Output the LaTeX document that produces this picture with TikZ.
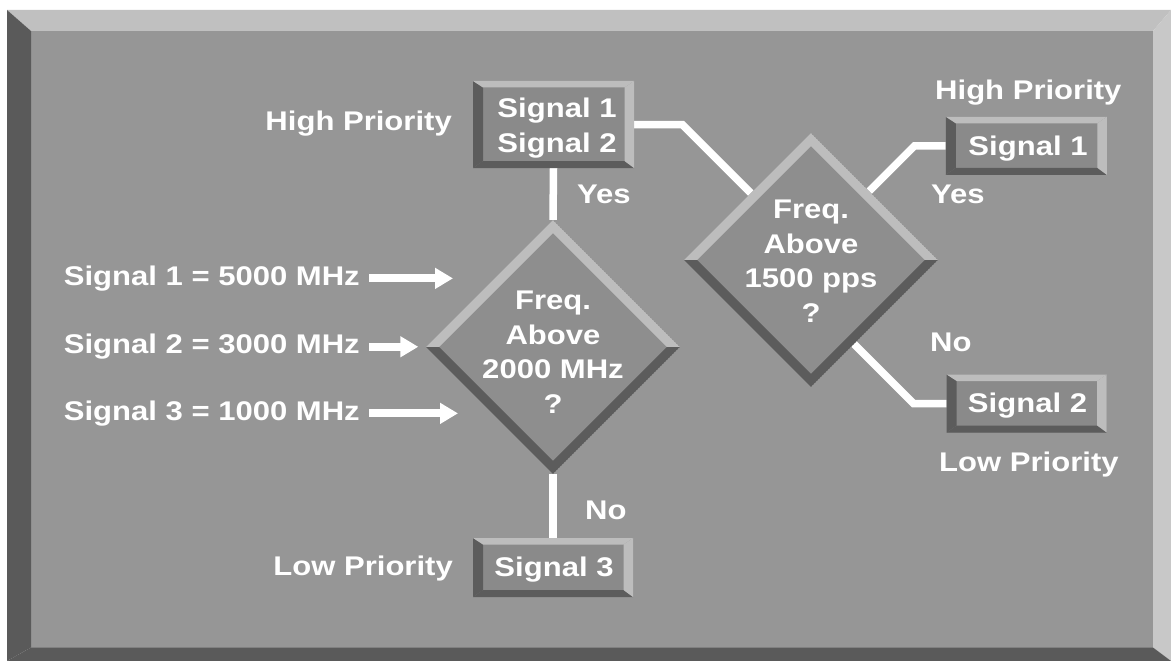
\documentclass[tikz,border=0pt]{standalone}
\usepackage{fontspec}
\newfontfamily\lbl{Liberation Sans}[FakeStretch=1.15]
\usetikzlibrary{arrows.meta,calc,shapes.geometric,backgrounds}
\definecolor{bg}{HTML}{969696}
\definecolor{bvl}{HTML}{BDBDBD}
\definecolor{bvd}{HTML}{5C5C5C}
\definecolor{frl}{HTML}{C0C0C0}
\definecolor{frr}{HTML}{C8C8C8}
\definecolor{frd}{HTML}{5A5A5A}
\definecolor{boxface}{HTML}{8A8A8A}
\definecolor{dface}{HTML}{8E8E8E}
\tikzset{
  txt/.style={text=white, inner sep=0pt, font=\lbl\bfseries\fontsize{27pt}{34.5pt}\selectfont},
  bevelbox/.style={fill=boxface, inner sep=0pt,
    path picture={
      \fill[bvd] (path picture bounding box.north west)
        -- ([shift={(10pt,-6.5pt)}]path picture bounding box.north west)
        -- ([shift={(10pt,7pt)}]path picture bounding box.south west)
        -- (path picture bounding box.south west) -- cycle;
      \fill[bvd] (path picture bounding box.south west)
        -- ([shift={(10pt,7pt)}]path picture bounding box.south west)
        -- ([shift={(-9.5pt,7pt)}]path picture bounding box.south east)
        -- (path picture bounding box.south east) -- cycle;
      \fill[bvl] (path picture bounding box.north west)
        -- (path picture bounding box.north east)
        -- ([shift={(-9.5pt,-6.5pt)}]path picture bounding box.north east)
        -- ([shift={(10pt,-6.5pt)}]path picture bounding box.north west) -- cycle;
      \fill[bvl] (path picture bounding box.north east)
        -- (path picture bounding box.south east)
        -- ([shift={(-9.5pt,7pt)}]path picture bounding box.south east)
        -- ([shift={(-9.5pt,-6.5pt)}]path picture bounding box.north east) -- cycle;
    }},
  dia/.style={diamond, minimum width=254pt, minimum height=254pt, inner sep=0pt, fill=dface,
    path picture={
      \fill[bvl] (path picture bounding box.west) -- (path picture bounding box.north)
        -- (path picture bounding box.east) -- ([xshift=-13pt]path picture bounding box.east)
        -- ([yshift=-13pt]path picture bounding box.north) -- ([xshift=13pt]path picture bounding box.west) -- cycle;
      \fill[bvd] (path picture bounding box.west) -- (path picture bounding box.south)
        -- (path picture bounding box.east) -- ([xshift=-13pt]path picture bounding box.east)
        -- ([yshift=13pt]path picture bounding box.south) -- ([xshift=13pt]path picture bounding box.west) -- cycle;
    }},
  conn/.style={white, line width=7.5pt},
  arr/.style={white, line width=8pt, -{Triangle[length=18pt,width=20pt]}}
}
\begin{document}
\begin{tikzpicture}[x=1pt, y=-1pt]
\useasboundingbox (0,0) rectangle (1171,661);
\begin{pgfonlayer}{background}
\fill[white] (0,0) rectangle (1171,661);
\fill[bg] (31,31) rectangle (1153,647.5);
\fill[frl] (7,10) -- (1171,10) -- (1153,31) -- (31,31) -- cycle;
\fill[frr] (1171,10) -- (1171,661) -- (1153,647.5) -- (1153,31) -- cycle;
\fill[frd] (7,10) -- (31,31) -- (31,647.5) -- (7,661) -- cycle;
\fill[frd] (7,661) -- (31,647.5) -- (1153,647.5) -- (1171,661) -- cycle;
\end{pgfonlayer}

\node[bevelbox, minimum width=161pt, minimum height=87pt] (b1) at (553.5,124.5) {};
\node[bevelbox, minimum width=160pt, minimum height=59pt] (b3) at (553,567.5) {};
\node[bevelbox, minimum width=161pt, minimum height=58pt] (rs1) at (1026.3,145.8) {};
\node[bevelbox, minimum width=160pt, minimum height=58pt] (rs2) at (1026.7,403.5) {};
\node[txt, align=center] (b1t) at (557,128) {Signal 1\\Signal 2};
\node[txt] (b3t) at (554,569.5) {Signal 3};
\node[txt] (rs1t) at (1028,148.5) {Signal 1};
\node[txt] (rs2t) at (1027.5,405.5) {Signal 2};

\node[dia] (d1) at (553,347) {};
\node[dia] (d2) at (811,260) {};
\node[txt, align=center] (d1t) at (553,352) {Freq.\\Above\\2000 MHz\\?};
\node[txt, align=center] (d2t) at (811,261) {Freq.\\Above\\1500 pps\\?};

\node[txt, anchor=base east] (hp1) at (452,130.5) {High Priority};
\node[txt, anchor=base west] (hp2) at (935,99.8) {High Priority};
\node[txt, anchor=base west] (y1) at (577,203.3) {Yes};
\node[txt, anchor=base west] (y2) at (931,203.8) {Yes};
\node[txt, anchor=base west] (n1) at (585,519.5) {No};
\node[txt, anchor=base west] (n2) at (930,351) {No};
\node[txt, anchor=base east] (lp1) at (453,575.5) {Low Priority};
\node[txt, anchor=base west] (lp2) at (939,471.5) {Low Priority};
\node[txt, anchor=base east] (s1) at (360,285.3) {Signal 1 = 5000 MHz};
\node[txt, anchor=base east] (s2) at (360,353.7) {Signal 2 = 3000 MHz};
\node[txt, anchor=base east] (s3) at (360,420.3) {Signal 3 = 1000 MHz};

\begin{pgfonlayer}{background}
\draw[conn] (b1.south) -- (d1.north);
\draw[conn] (d1.south) -- (b3.north);
\draw[conn] (b1.east) -- ++(48,0) coordinate (k1) -- ++(80,80) coordinate (e1);
\draw[conn] (rs1.west) -- ++(-31,0) coordinate (k2) -- ++(-70,70) coordinate (e2);
\draw[conn] (rs2.west) -- ++(-33,0) coordinate (k3) -- ++(-70,-70) coordinate (e3);
\end{pgfonlayer}

\draw[arr] ([xshift=9pt]s1.east) -- ++(84,0) coordinate (a1);
\draw[arr] ([xshift=9pt]s2.east) -- ++(49.3,0) coordinate (a2);
\draw[arr] ([xshift=9pt]s3.east) -- ++(89,0) coordinate (a3);
\end{tikzpicture}
\end{document}
